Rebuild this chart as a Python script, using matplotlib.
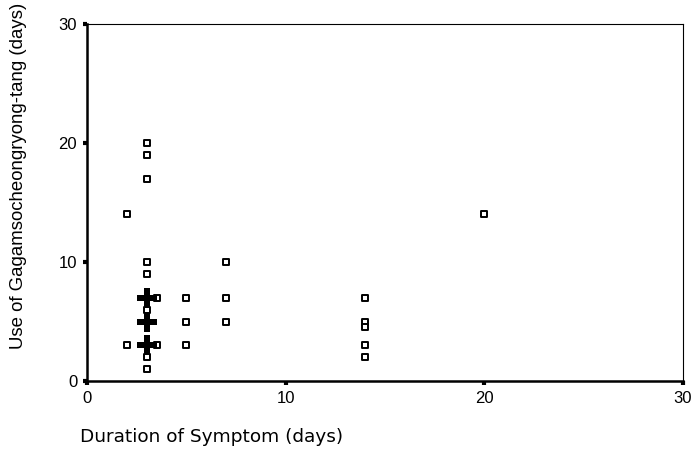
import numpy as np
from matplotlib import pyplot as plt

# single observations (open squares)
dur = [2, 2, 3, 3, 3, 3, 3, 3, 3, 3, 3.5, 3.5, 5, 5, 5, 7, 7, 7, 14, 14, 14, 14, 14, 20]
use = [14, 3, 20, 19, 17, 10, 9, 6, 2, 1, 7, 3, 7, 5, 3, 10, 7, 5, 7, 5, 4.5, 3, 2, 14]

# overlapping observations (filled crosses)
dur_multi = [3, 3, 3]
use_multi = [7, 5, 3]

ticks = [0, 10, 20, 30]

plt.rcParams['font.family'] = ['Liberation Sans', 'DejaVu Sans']

fig = plt.figure(figsize=(6.93, 4.58), dpi=100)
ax = fig.add_axes([0.1255, 0.168, 0.86, 0.78])

ax.scatter(dur, use, marker='s', s=20, facecolors='white', edgecolors='black',
           linewidths=1.4, zorder=3)
ax.scatter(dur_multi, use_multi, marker='P', s=210, color='black',
           linewidths=0, zorder=4)

ax.set_xlim(0, 30)
ax.set_ylim(0, 30)
ax.set_xticks(ticks)
ax.set_yticks(ticks)
ax.tick_params(direction='out', length=3, width=3, labelsize=12, pad=4)

for s in ['left', 'bottom']:
    ax.spines[s].set_linewidth(1.8)
for s in ['top', 'right']:
    ax.spines[s].set_linewidth(0.8)

fig.text(0.026, 0.615, 'Use of Gagamsocheongryong-tang (days)', fontsize=13.4,
         rotation=90, ha='center', va='center')
fig.text(0.115, 0.035, 'Duration of Symptom (days)', fontsize=13.3,
         family='DejaVu Sans')

fig.savefig('out.png', dpi=100)
